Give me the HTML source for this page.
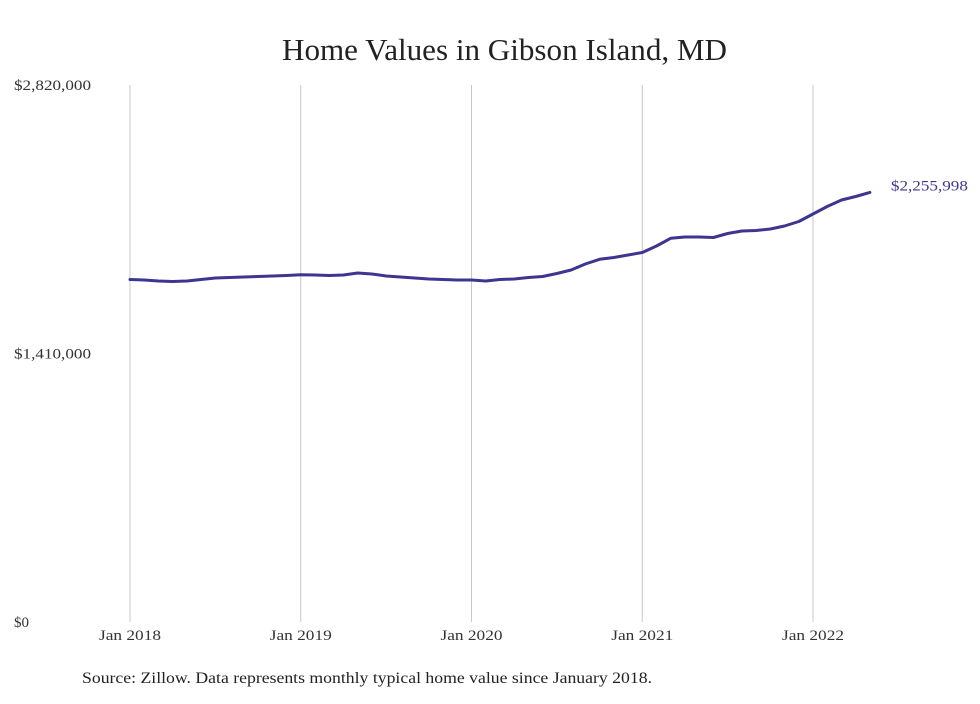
<!DOCTYPE html>
<html><head><meta charset="utf-8"><style>
body{margin:0;background:#fff;width:980px;height:699px;overflow:hidden;font-family:"Liberation Serif",serif}
</style></head><body>
<svg width="980" height="699" id="c">
<text x="282" y="60" textLength="445" lengthAdjust="spacingAndGlyphs" font-size="30.5" fill="#222">Home Values in Gibson Island, MD</text>
<text x="82" y="683" textLength="570" lengthAdjust="spacingAndGlyphs" font-size="15.5" fill="#222">Source: Zillow. Data represents monthly typical home value since January 2018.</text>
<g id="grid"></g><g id="axis"></g><g id="series"></g>
</svg>
<script>
const values=[1798600,1795980,1790700,1788100,1790700,1798600,1806500,1809100,1811700,1814400,1817000,1819600,
1823800,1822200,1819600,1822200,1832700,1827500,1817000,1811700,1806500,1801200,1798600,1796000,
1796000,1790700,1798600,1801200,1809100,1814400,1830100,1848500,1880000,1904700,1914100,1927300,
1940400,1974500,2015000,2021800,2021800,2019200,2040200,2053300,2055900,2063800,2079600,2103200,
2142600,2182000,2216100,2234500,2255998];
const yTicks=[0,1410000,2820000];
const yTickLabels=["$0","$1,410,000","$2,820,000"];
const xTickMonths=[0,12,24,36,48];
const xTickLabels=["Jan 2018","Jan 2019","Jan 2020","Jan 2021","Jan 2022"];
const lastLabel="$2,255,998";
const NS="http://www.w3.org/2000/svg";
const x=m=>130+m*(683/48);
const y=v=>622-v/2820000*537;
function mk(t,a,p){const e=document.createElementNS(NS,t);for(const k in a)e.setAttribute(k,a[k]);p.appendChild(e);return e;}
const g=document.getElementById('grid'),ax=document.getElementById('axis'),s=document.getElementById('series');
xTickMonths.forEach((m,i)=>{
 const l=mk('line',{x1:x(m),x2:x(m),y1:85,y2:622,stroke:'#c8c8c8','stroke-width':1},g);
 
 
 const t=mk('text',{x:x(m)-31,y:640,textLength:62,lengthAdjust:'spacingAndGlyphs','font-size':15,fill:'#333'},ax);
 t.textContent=xTickLabels[i];
 
 
});
yTicks.forEach((v,i)=>{
 const a={x:14,y:y(v)+5,'font-size':15,fill:'#333'};
 if(yTickLabels[i].length>4){a.textLength=77;a.lengthAdjust='spacingAndGlyphs';}
 const t=mk('text',a,ax);
 t.textContent=yTickLabels[i];
 
 
});
const p=mk('path',{d:values.map((v,i)=>(i?'L':'M')+x(i).toFixed(1)+' '+y(v).toFixed(1)).join(''),fill:'none',stroke:'#3d3590','stroke-width':3,'stroke-linejoin':'round','stroke-linecap':'round'},s);


const n=values.length-1;
const lt=mk('text',{x:x(n)+21,y:y(values[n])-2,textLength:77,lengthAdjust:'spacingAndGlyphs','font-size':15,fill:'#3d3590'},s);
lt.textContent=lastLabel;


</script>
</body></html>
